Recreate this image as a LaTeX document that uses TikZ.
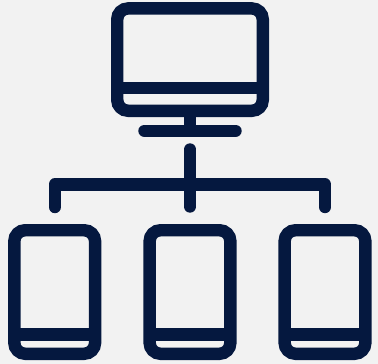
\documentclass[tikz,border=0pt]{standalone}
\definecolor{navy}{HTML}{05183F}
\definecolor{paper}{HTML}{F2F2F2}
\tikzset{
  icon/.style={draw=navy,line width=12.4pt},
  frame/.style={icon,rectangle,rounded corners=11pt,inner sep=0pt,outer sep=0pt},
  screen/.style={frame,minimum width=145.6pt,minimum height=102.4pt},
  phone/.style={frame,minimum width=80.8pt,minimum height=123.6pt},
  wire/.style={icon,line cap=round,line join=round},
  bar/.style={icon,line cap=butt}
}
\begin{document}
\begin{tikzpicture}[x=1pt,y=-1pt]
\fill[paper] (0,0) rectangle (378,364);
\useasboundingbox (0,0) rectangle (378,364);
% monitor
\node[screen] (monitor) at (190,59.6) {};
\draw[bar] ([yshift=-28.4pt]monitor.west) -- ([yshift=-28.4pt]monitor.east);
\coordinate (baseL) at (144.5,130.7);
\coordinate (baseR) at (235.5,130.7);
\coordinate (baseC) at (190,130.7);
\draw[bar] (monitor.south) -- (baseC);
\draw[wire] (baseL) -- (baseR);
% phones
\node[phone] (p1) at (54.7,292) {};
\node[phone] (p2) at (190,292) {};
\node[phone] (p3) at (325,292) {};
\foreach \p in {p1,p2,p3}{
  \draw[bar] ([yshift=-42.3pt]\p.west) -- ([yshift=-42.3pt]\p.east);
}
% connectors
\coordinate (top) at (190,149.5);
\coordinate (p1end) at (54.7,207);
\coordinate (p2end) at (190,206.5);
\coordinate (p3end) at (325,207);
\coordinate (busL) at (54.7,184.4);
\coordinate (busR) at (325,184.4);
\draw[wire] (top) -- (p2end);
\draw[wire] (p1end) -- (busL) -- (busR) -- (p3end);
\end{tikzpicture}
\end{document}
